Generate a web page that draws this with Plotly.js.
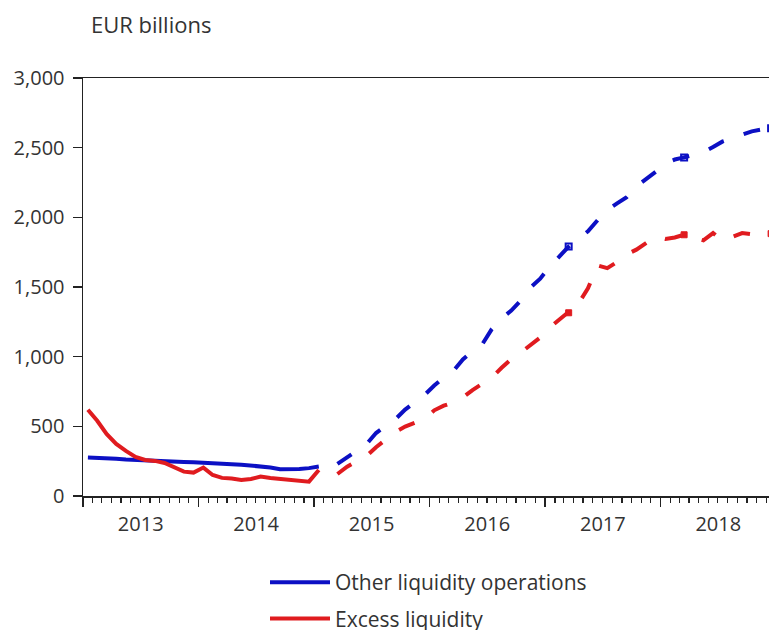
<!DOCTYPE html>
<html>
<head>
<meta charset="utf-8">
<script src="https://cdn.plot.ly/plotly-3.0.1.min.js"></script>
<style>
  html, body { margin: 0; padding: 0; overflow: hidden; background: #fff; }
  #chart { width: 776px; height: 630px; }
</style>
</head>
<body>
<div id="chart"></div>
<script>
// ---- Data (EUR billions), monthly ----
const solidStart = "2013-01";           // first month of the observed (solid) series
const dashedStart = "2015-03";          // first month of the projected (dashed) series

const otherObserved = [276, 275, 272, 268, 262, 258, 255, 252, 250, 247, 244, 242,
                       240, 236, 232, 228, 225, 220, 216, 205, 192, 192, 193, 200, 211];
const excessObserved = [619, 540, 445, 374, 324, 281, 259, 252, 237, 209, 175, 168,
                        204, 151, 130, 125, 115, 122, 139, 130, 125, 118, 115, 103, 187];

const otherProjected = [230, 276, 322, 372, 452, 505, 552, 620, 675, 724,
                        793, 850, 896, 980, 1040, 1088, 1198, 1275, 1331, 1405, 1497, 1560,
                        1648, 1720, 1790, 1845, 1900, 1980, 2052, 2100, 2145, 2222, 2275, 2327,
                        2390, 2415, 2430, 2450, 2468, 2505, 2545, 2568, 2590, 2617, 2630, 2640];
const excessProjected = [158, 210, 250, 287, 350, 405, 460, 498, 525, 552,
                         615, 648, 671, 708, 760, 808, 850, 920, 983, 1030, 1080, 1138,
                         1210, 1265, 1315, 1380, 1490, 1655, 1635, 1680, 1734, 1768, 1815, 1863,
                         1845, 1855, 1875, 1855, 1835, 1887, 1832, 1860, 1887, 1878, 1880, 1883];

const markerMonths = ["2017-03", "2018-03", "2018-12"];
const otherMarkers = [1790, 2430, 2640];
const excessMarkers = [1315, 1875, 1883];

const seriesNames = ["Other liquidity operations", "Excess liquidity"];
const yTickVals = [0, 500, 1000, 1500, 2000, 2500, 3000];

// ---- helpers ----
function monthsFrom(start, n) {
  const [y0, m0] = start.split("-").map(Number);
  const out = [];
  for (let k = 0; k < n; k++) {
    const t = (m0 - 1) + k;
    const y = y0 + Math.floor(t / 12);
    const m = (t % 12) + 1;
    out.push(y + "-" + String(m).padStart(2, "0"));
  }
  return out;
}

const BLUE = "#0c10c4";
const RED = "#e01b1f";
const TXT = "#333333";
const FONT = "Open Sans, DejaVu Sans, sans-serif";

const solidX = monthsFrom(solidStart, otherObserved.length);
const dashX = monthsFrom(dashedStart, otherProjected.length);
const per = { xperiod: "M1", xperiodalignment: "middle" };

const traces = [
  Object.assign({ x: solidX, y: otherObserved, type: "scatter", mode: "lines",
    name: seriesNames[0], legendgroup: "a",
    line: { color: BLUE, width: 4 } }, per),
  Object.assign({ x: solidX, y: excessObserved, type: "scatter", mode: "lines",
    name: seriesNames[1], legendgroup: "b",
    line: { color: RED, width: 4 } }, per),
  Object.assign({ x: dashX, y: otherProjected, type: "scatter", mode: "lines",
    name: seriesNames[0], legendgroup: "a", showlegend: false,
    line: { color: BLUE, width: 4, dash: "17px,21px" } }, per),
  Object.assign({ x: dashX, y: excessProjected, type: "scatter", mode: "lines",
    name: seriesNames[1], legendgroup: "b", showlegend: false,
    line: { color: RED, width: 4, dash: "17px,21px" } }, per),
  Object.assign({ x: markerMonths, y: otherMarkers, type: "scatter", mode: "markers",
    showlegend: false, hoverinfo: "skip", cliponaxis: false,
    marker: { symbol: "square-open", size: 6, color: BLUE, line: { width: 2, color: BLUE } } }, per),
  Object.assign({ x: markerMonths, y: excessMarkers, type: "scatter", mode: "markers",
    showlegend: false, hoverinfo: "skip", cliponaxis: false,
    marker: { symbol: "square", size: 6, color: RED, line: { width: 1, color: RED } } }, per)
];

const layout = {
  width: 776,
  height: 630,
  margin: { l: 83, r: 0, t: 78, b: 134, autoexpand: false },
  paper_bgcolor: "#ffffff",
  plot_bgcolor: "#ffffff",
  font: { family: FONT, size: 20, color: TXT },
  showlegend: true,
  title: {
    text: "EUR billions",
    font: { family: FONT, size: 22, color: TXT },
    xref: "container", yref: "container",
    x: 91 / 776, xanchor: "left",
    y: 1 - 25 / 630, yanchor: "middle"
  },
  xaxis: {
    type: "date",
    range: ["2013-01-01", "2019-01-01"],
    tick0: "2013-01-01",
    dtick: "M12",
    tickformat: "%Y",
    ticklabelmode: "period",
    ticks: "outside",
    ticklen: 9,
    tickwidth: 1.5,
    tickcolor: "#222",
    ticklabelstandoff: 0,
    minor: { dtick: "M1", ticks: "outside", ticklen: 5, tickwidth: 1.2, tickcolor: "#222" },
    showline: true,
    linecolor: "#222",
    linewidth: 1.5,
    mirror: true,
    showgrid: false,
    zeroline: false,
    tickfont: { family: FONT, size: 20, color: TXT },
    fixedrange: true
  },
  yaxis: {
    range: [0, 3000],
    tickvals: yTickVals,
    tickformat: ",",
    ticks: "outside",
    ticklen: 9,
    tickwidth: 1.5,
    tickcolor: "#222",
    ticklabelstandoff: 4,
    showline: true,
    linecolor: "#222",
    linewidth: 1.5,
    mirror: true,
    showgrid: false,
    zeroline: false,
    tickfont: { family: FONT, size: 20, color: TXT },
    fixedrange: true
  },
  legend: {
    orientation: "v",
    xref: "container", yref: "container",
    x: 265 / 776, xanchor: "left",
    y: 1 - 562 / 630, yanchor: "top",
    itemwidth: 60,
    tracegroupgap: 6,
    traceorder: "grouped",
    font: { family: FONT, size: 21, color: TXT },
    bgcolor: "rgba(0,0,0,0)"
  }
};

Plotly.newPlot("chart", traces, layout, { staticPlot: true, displayModeBar: false });
</script>
</body>
</html>
